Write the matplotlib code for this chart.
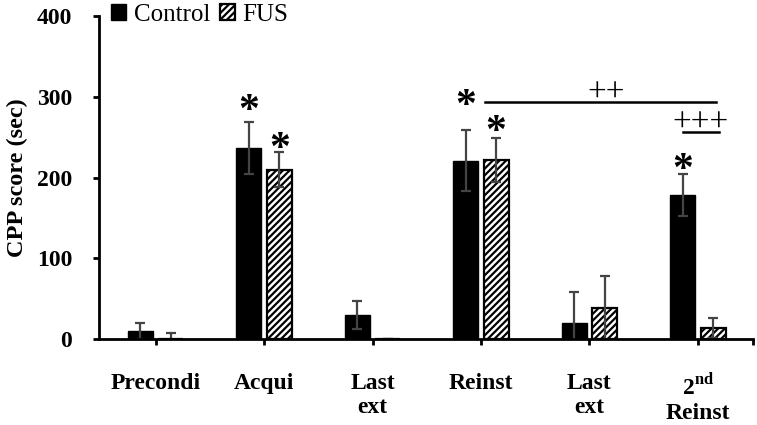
import matplotlib
matplotlib.use("Agg")
import matplotlib.pyplot as plt
import numpy as np

plt.rcParams['font.family'] = ['Liberation Serif', 'DejaVu Serif']
plt.rcParams['mathtext.fontset'] = 'custom'
plt.rcParams['mathtext.rm'] = 'Liberation Serif:bold'
plt.rcParams['mathtext.bf'] = 'Liberation Serif:bold'
plt.rcParams['hatch.linewidth'] = 1.6

# data
phases = ["Precondi", "Acqui", "Last\next", "Reinst", "Last\next", r"2$^{\mathbf{nd}}$" + "\nReinst"]
control = [10, 237, 30, 221, 20, 179]
control_err = [10, 32, 17, 38, 38, 26]
fus = [0, 210, 0, 222, 38, 14]
fus_err = [7, 22, 0, 27, 40, 12]
yticks = [0, 100, 200, 300, 400]

# significance marks: (group, side, y)
stars = [(1, -1, 287), (1, 1, 240), (3, -1, 293), (3, 1, 261), (5, -1, 214)]


def main():
    fig = plt.figure(figsize=(7.57, 4.25), dpi=100)
    ax = fig.add_axes([0.131, 0.202, 0.864, 0.760])

    x = np.arange(len(phases))
    w = 0.23
    off = 0.14
    ekw = dict(ecolor='#444444', elinewidth=1.6, capsize=3.5, capthick=1.6)

    ax.bar(x - off, control, w, color='black', edgecolor='black', label='Control',
           yerr=control_err, error_kw=ekw, zorder=2)
    ax.bar(x + off, fus, w, color='white', edgecolor='black', hatch='/////',
           linewidth=1.6, label='FUS', yerr=fus_err, error_kw=ekw, zorder=2)

    for g, side, y in stars:
        ax.text(x[g] + side * off, y, '*', ha='center', va='center_baseline',
                fontsize=30, fontweight='bold')

    ax.plot([x[3] + off - 0.1, x[5] + 0.17], [294, 294], color='black', lw=1.8)
    ax.text((x[3] + x[5]) / 2 + 0.157, 309, '++', ha='center', va='center_baseline',
            fontsize=24)
    ax.text(x[5] + 0.02, 271, '+++', ha='center', va='center_baseline', fontsize=24)
    ax.plot([x[5] - 0.14, x[5] + 0.19], [256, 256], color='black', lw=1.8)

    ax.set_xlim(-0.52, 5.51)
    ax.set_ylim(0, 400)
    ax.set_xticks(list(x) + [5.51])
    ax.set_xticklabels(phases + [''], fontsize=17, fontweight='bold', linespacing=1.2)
    ax.set_yticks(yticks)
    ax.set_yticklabels([str(v) for v in yticks], fontsize=17, fontweight='bold')
    ax.tick_params(axis='x', direction='out', length=4.5, width=2, pad=20)
    ax.tick_params(axis='y', direction='out', length=4.5, width=2, pad=15)
    for s in ['top', 'right']:
        ax.spines[s].set_visible(False)
    for s in ['left', 'bottom']:
        ax.spines[s].set_linewidth(2)
    ax.set_ylabel("CPP score (sec)", fontsize=17.5, fontweight='bold', labelpad=6)

    ax.legend(loc='upper left', bbox_to_anchor=(0.003, 1.07), ncol=2, frameon=False,
              fontsize=18, handlelength=0.6, handleheight=0.6, handletextpad=0.3,
              columnspacing=0.4, borderaxespad=0)

    fig.savefig("out.png", dpi=100)


if __name__ == '__main__':
    main()
